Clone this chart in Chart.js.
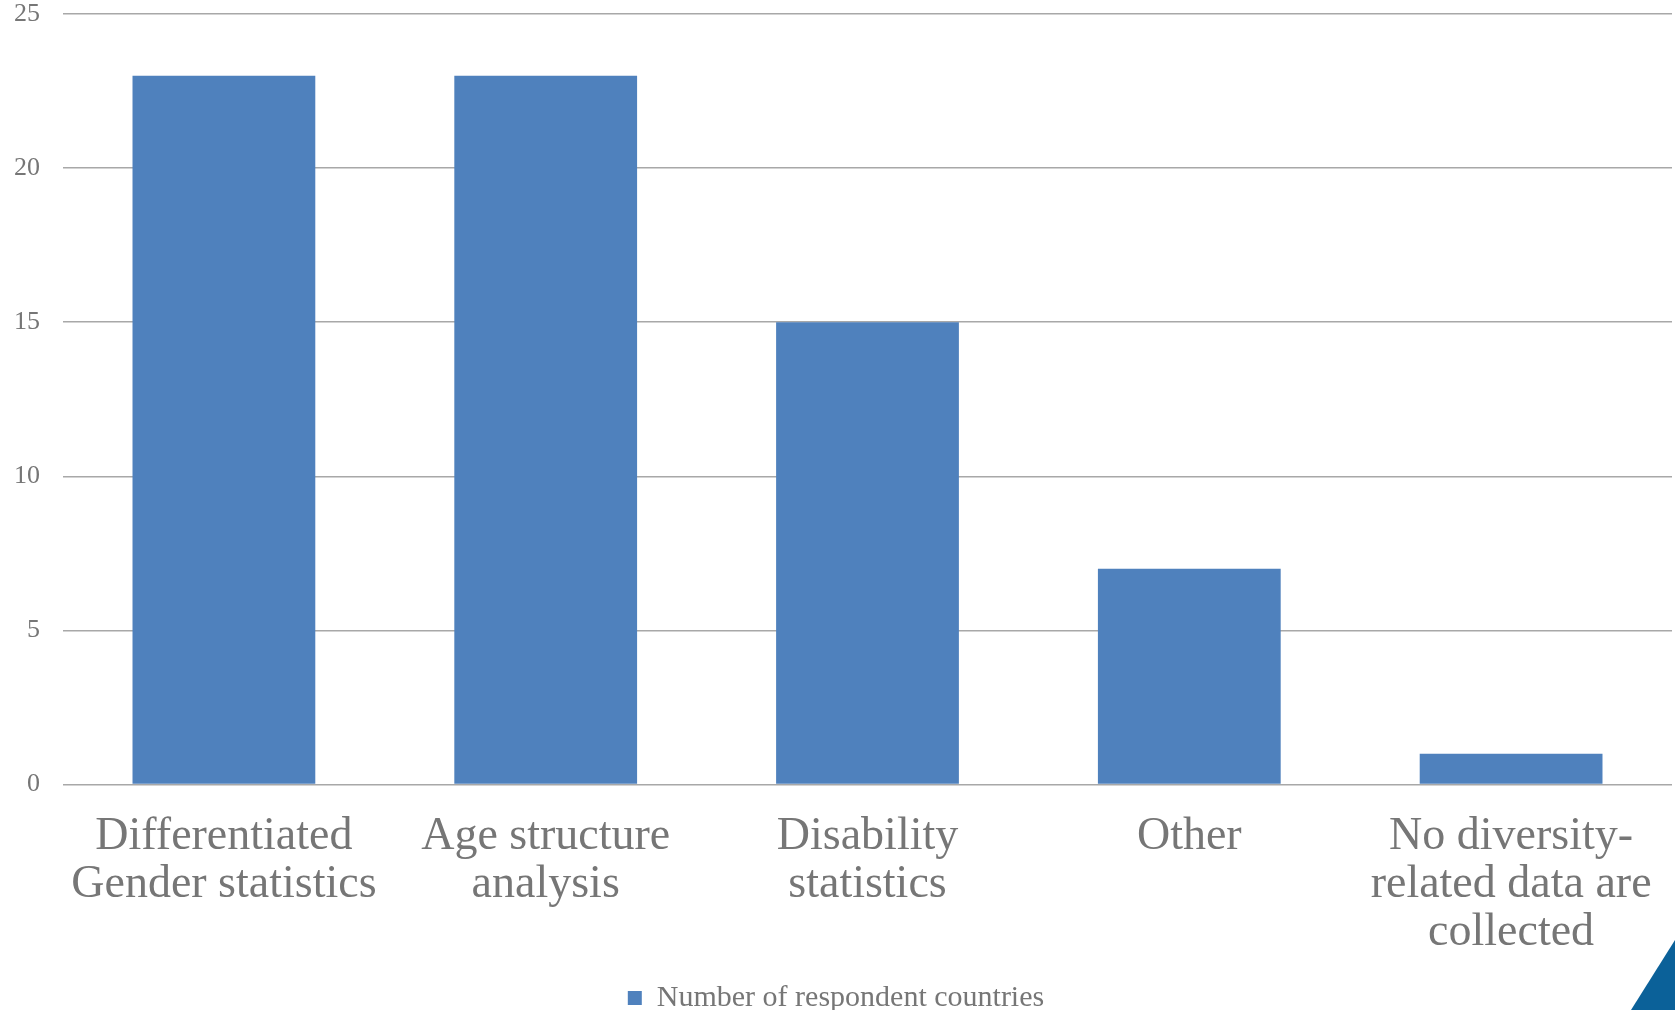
<!DOCTYPE html>
<html>
<head>
<meta charset="utf-8">
<script src="https://cdn.jsdelivr.net/npm/chart.js@4.4.1/dist/chart.umd.min.js"></script>
<style>
    html, body { margin: 0; padding: 0; background: #ffffff; }
    #wrap { position: relative; width: 1675px; height: 1010px; overflow: hidden; }
    #corner {
        position: absolute; right: 0; bottom: 0; width: 44px; height: 70px;
        background: #0b6199; clip-path: polygon(100% 0, 100% 100%, 0 100%);
    }
</style>
</head>
<body>
<div id="wrap">
    <canvas id="myChart" width="1675" height="1010"></canvas>
    <div id="corner"></div>
</div>
<script>
const categories = [
    ['Differentiated', 'Gender statistics'],
    ['Age structure', 'analysis'],
    ['Disability', 'statistics'],
    'Other',
    ['No diversity-', 'related data are', 'collected']
];
const seriesName = 'Number of respondent countries';
const respondentCounts = [23, 23, 15, 7, 1];
const yTicks = [0, 5, 10, 15, 20, 25];

const textGray = '#767676';
const serif = '"Liberation Serif", "DejaVu Serif", serif';

const chartContext = document.getElementById('myChart').getContext('2d');
new Chart(chartContext, {
    type: 'bar',
    data: {
        labels: categories,
        datasets: [
            {
                label: seriesName,
                data: respondentCounts,
                backgroundColor: '#4f81bd',
                borderColor: '#4f81bd',
                borderWidth: 0,
                barPercentage: 0.568,
                categoryPercentage: 1,
            },
        ]
    },
    options: {
        responsive: false,
        animation: false,
        layout: {
            // legend sits lower than chart.js would put it
            padding: { top: 1, bottom: -13, left: 0, right: 3 },
        },
        plugins: {
            legend: {
                position: 'bottom',
                labels: {
                    boxWidth: 14,
                    boxHeight: 14,
                    padding: 4,
                    color: textGray,
                    font: { family: serif, size: 30 },
                },
            },
            tooltip: { enabled: false },
        },
        scales: {
            x: {
                afterFit: function (axis) { axis.height += 1; },
                grid: { display: false },
                border: { display: false },
                ticks: {
                    color: textGray,
                    padding: 21,
                    maxRotation: 0,
                    autoSkip: false,
                    font: { family: serif, size: 46, lineHeight: 1.04 },
                },
            },
            y: {
                min: yTicks[0],
                max: yTicks[yTicks.length - 1],
                afterFit: function (axis) {
                    axis.width = 63;
                    axis.paddingTop = 14;
                    axis.paddingBottom = 0;
                },
                afterBuildTicks: function (axis) {
                    axis.ticks = yTicks.map(v => ({ value: v }));
                },
                grid: {
                    color: '#a8a8a8',
                    lineWidth: 1.5,
                    drawTicks: false,
                },
                border: { display: false },
                ticks: {
                    color: textGray,
                    padding: 23,
                    font: { family: serif, size: 26 },
                },
            },
        },
    },
});
</script>
</body>
</html>
